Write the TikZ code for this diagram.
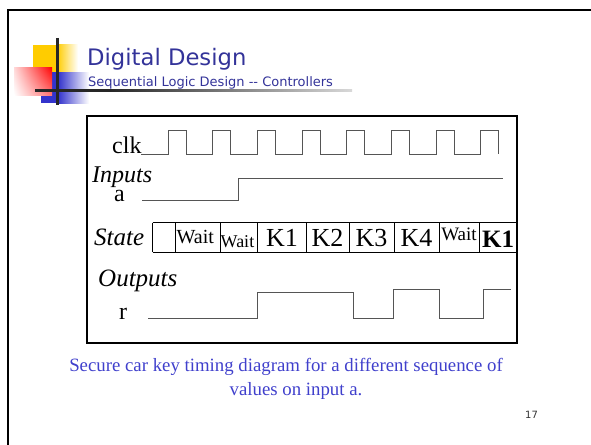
\documentclass[tikz,border=0pt]{standalone}
\usepackage{fontspec}
\usetikzlibrary{shadings}
\setmainfont{Liberation Serif}
\newfontfamily\tahoma{DejaVu Sans}
\definecolor{ttl}{RGB}{51,51,153}
\definecolor{cap}{RGB}{64,64,204}
\definecolor{ylw}{RGB}{255,204,0}
\definecolor{blu}{RGB}{51,51,204}
\definecolor{wav}{RGB}{85,85,85}
\tikzset{
  lbl/.style={anchor=base west, inner sep=0pt},
  cell/.style={anchor=base, inner sep=0pt},
  wave/.style={draw=wav, line width=1pt},
  rowline/.style={draw=black, line width=0.9pt},
}
\newcommand{\fs}[1]{\fontsize{#1}{#1}\selectfont}
\begin{document}
\begin{tikzpicture}[x=1pt,y=-1pt]
\useasboundingbox (0,0) rectangle (591,444);
% slide frame
\draw[line width=2.5pt] (8,450) -- (8,10) -- (600,10);
% logo
\fill[ylw] (33,45) rectangle (57,72);
\shade[left color=ylw, right color=white] (57,45) rectangle (78,72);
\fill[blu] (41,72) rectangle (58,103);
\shade[left color=blu, right color=white] (58,72) rectangle (89,103);
\shade[upper right=red, upper left=red!15!white, lower left=white, lower right=red!55!white] (14,67) rectangle (52,95);
\draw[line width=2.7pt, black!85] (57.3,38) -- (57.3,105);
\fill[black!85] (35,89) rectangle (110,91.5);
\shade[left color=black!85, right color=black!15] (110,89) rectangle (352,91.5);
% titles
\node[lbl, font=\tahoma\fs{22.7}, text=ttl] (title) at (87,65) {Digital Design};
\node[lbl, font=\tahoma\fs{13}, text=ttl] (subtitle) at (88,86) {Sequential Logic Design -{}- Controllers};
% timing box
\draw[line width=2.8pt] (87,116) rectangle (517,343);
% clk
\node[lbl, font=\fs{24}] (clk) at (112,153) {clk};
\draw[wave] (141,154) foreach \k in {0,...,7} { -- ({168+44.7*\k},154) -- ({168+44.7*\k},130) -- ({186+44.7*\k},130) -- ({186+44.7*\k},154) };
% inputs
\node[lbl, font=\itshape\fs{24}] (inputs) at (92,182) {Inputs};
\node[lbl, font=\fs{24}] (a) at (114,201) {a};
\draw[wave] (142,200) -- (238,200) -- (238,178) -- (503,178);
% state
\node[lbl, font=\itshape\fs{25}] (state) at (94,245) {State};
\draw[rowline] (152.5,222.5) -- (516,222.5);
\draw[rowline] (152.5,252) -- (516,252);
\foreach \x in {152.5,175,220,257.5,306,349,394,439,479} { \draw[rowline] (\x,222.5) -- (\x,252); }
\node[lbl, font=\fs{20}] (s2) at (176.5,243) {Wait};
\node[lbl, font=\fs{18}] (s3) at (220.5,247) {Wait};
\node[cell, font=\fs{26}] (s4) at (282,246.5) {K1};
\node[cell, font=\fs{26}] (s5) at (327.5,246.5) {K2};
\node[cell, font=\fs{26}] (s6) at (371.5,246.5) {K3};
\node[cell, font=\fs{26}] (s7) at (416.5,246.5) {K4};
\node[cell, font=\fs{19}] (s8) at (459,240) {Wait};
\node[lbl, font=\bfseries\fs{25}] (s9) at (482,247) {K1};
% outputs
\node[lbl, font=\itshape\fs{25}] (outputs) at (98,286) {Outputs};
\node[lbl, font=\fs{24}] (r) at (119,319) {r};
\draw[wave] (148,318.7) -- (257,318.7) -- (257,292.5) -- (353,292.5) -- (353,318.7) -- (393,318.7) -- (393,289.5) -- (439,289.5) -- (439,318.7) -- (483,318.7) -- (483,289.5) -- (511,289.5);
% caption
\node[cell, font=\fs{18.8}, text=cap] (cap1) at (286,371.7) {Secure car key timing diagram for a different sequence of};
\node[cell, font=\fs{18.8}, text=cap] (cap2) at (296,395) {values on input a.};
% page number
\node[lbl, font=\tahoma\fs{10}, text=black!80] (pg) at (525,418) {17};
\end{tikzpicture}
\end{document}
